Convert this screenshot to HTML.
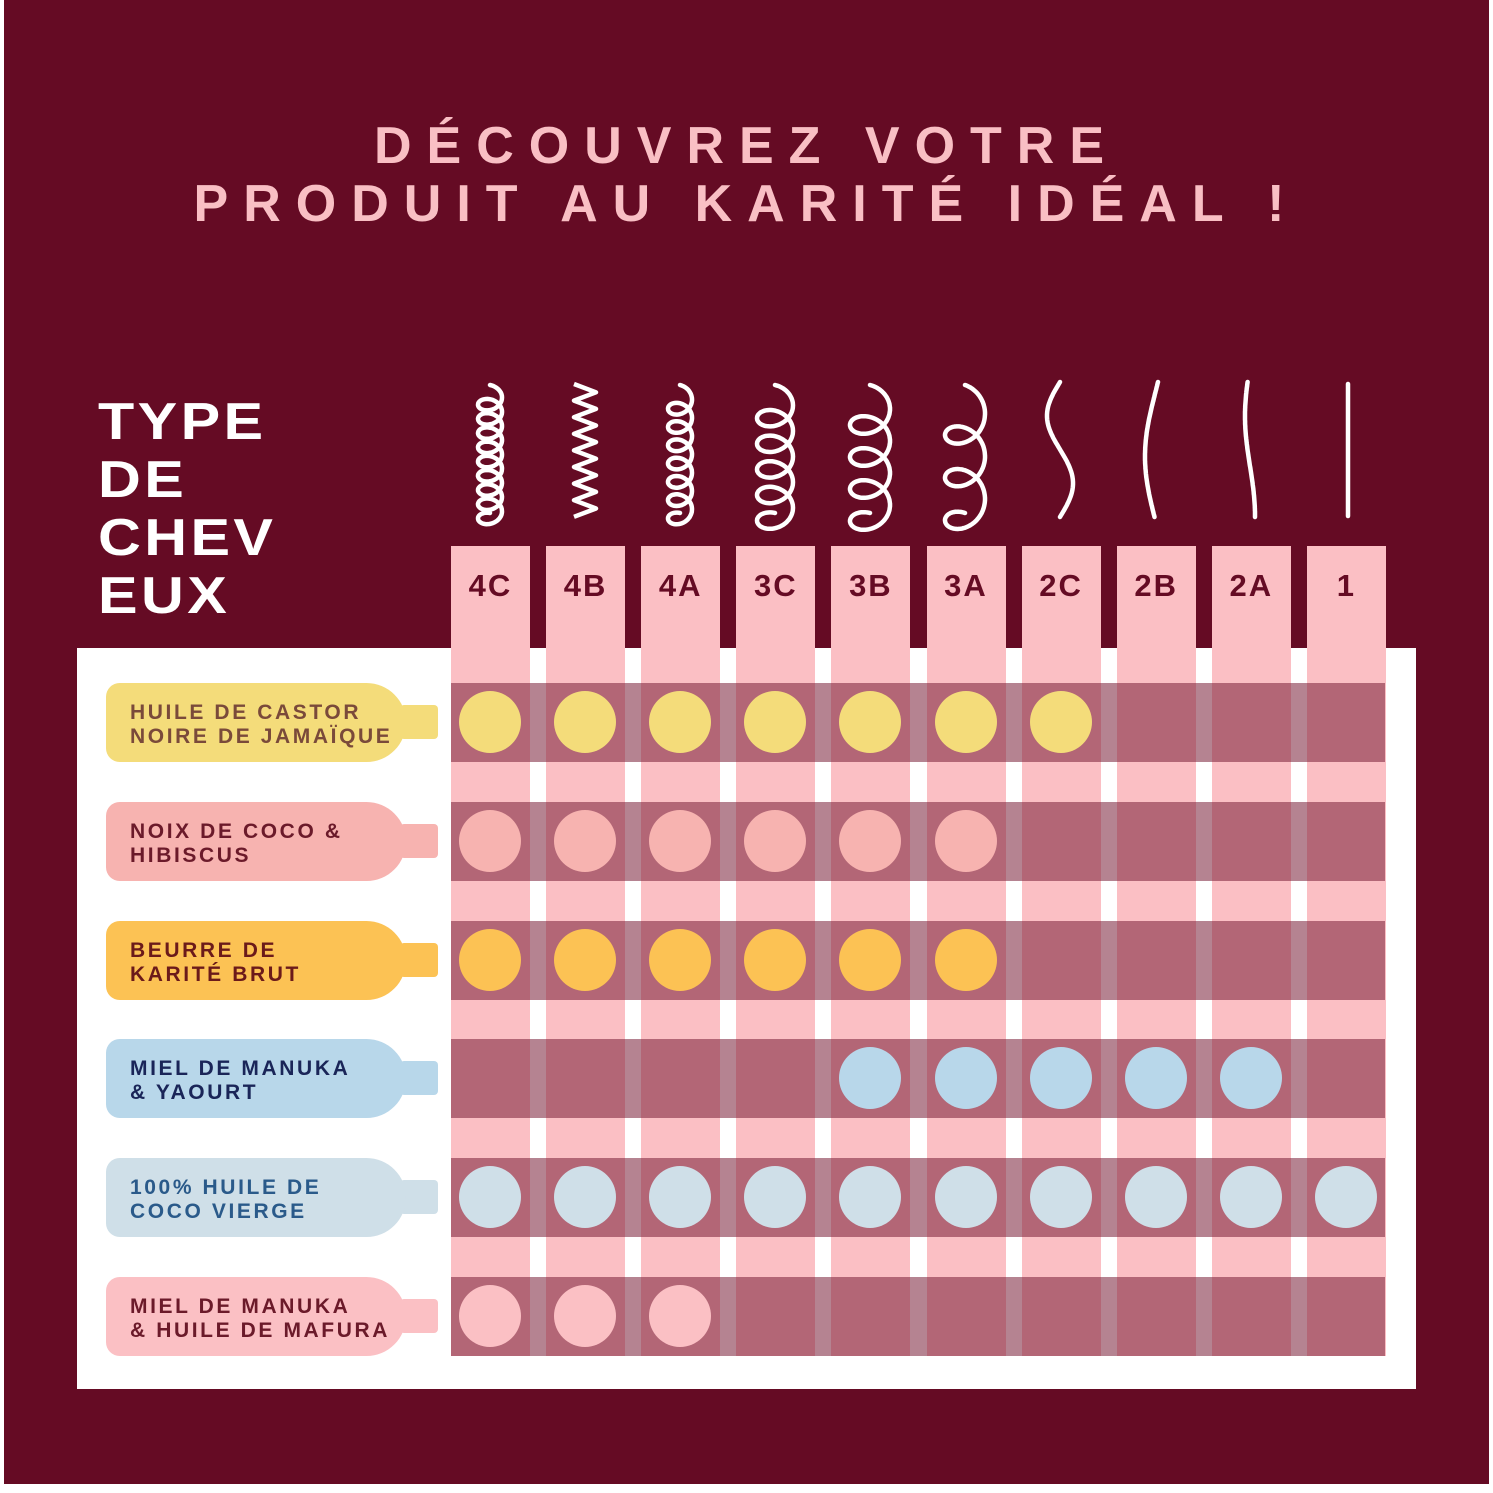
<!DOCTYPE html>
<html><head><meta charset="utf-8"><style>
body{margin:0;width:1493px;height:1493px;background:#fff;position:relative;overflow:hidden;font-family:"Liberation Sans",sans-serif;font-weight:bold}
.bg{position:absolute;left:4px;top:0;width:1485px;height:1484px;background:#650b24}
.t{position:absolute;left:0;width:1493px;text-align:center;color:#f9bfc4;font-size:52px;letter-spacing:15px;line-height:56px}
.type{position:absolute;left:98px;top:393px;color:#fff;font-size:52px;line-height:58px;letter-spacing:3px;transform:scaleX(1.14);transform-origin:left top}
.panel{position:absolute;left:77px;top:648px;width:1339px;height:741px;background:#fff}
.col{position:absolute;top:546px;width:79px;height:810px;background:#fbbfc4;color:#650b24;font-size:31px;text-align:center;padding-top:22px;box-sizing:border-box;letter-spacing:2px}
.band{position:absolute;left:451px;width:934px;height:79px;background:rgba(120,30,55,0.55)}
.dot{position:absolute;width:62px;height:62px;border-radius:50%}
.lab{position:absolute;left:106px;width:300px;height:79px;border-radius:14px 40px 40px 14px;font-size:21px;letter-spacing:2.6px;line-height:24px;padding:18px 0 0 24px;box-sizing:border-box;white-space:nowrap}
.neck{position:absolute;left:400px;width:38px;height:34px;border-radius:4px}
</style></head><body>
<div class="bg"></div>
<div class="t" style="top:118px">DÉCOUVREZ VOTRE</div>
<div class="t" style="top:176px">PRODUIT AU KARITÉ IDÉAL !</div>
<div class="type">TYPE<br>DE<br>CHEV<br>EUX</div>
<div class="panel"></div>
<div id="g"></div>
<svg id="h" style="position:absolute;left:0;top:0" width="1493" height="1493"></svg>
<script>
var g=document.getElementById('g'),html='';
var cols=['4C','4B','4A','3C','3B','3A','2C','2B','2A','1'];
for(var i=0;i<10;i++){html+='<div class="col" style="left:'+(451+i*95.1)+'px">'+cols[i]+'</div>';}
var rows=[
['HUILE DE CASTOR<br>NOIRE DE JAMAÏQUE','#f4dc7a','#7a4a3a','#f4dc7a',[0,1,2,3,4,5,6]],
['NOIX DE COCO &amp;<br>HIBISCUS','#f7b3b0','#6b1a2a','#f7b3b0',[0,1,2,3,4,5]],
['BEURRE DE<br>KARITÉ BRUT','#fcc254','#6b1a1a','#fcc254',[0,1,2,3,4,5]],
['MIEL DE MANUKA<br>&amp; YAOURT','#b8d7ea','#1a2558','#b8d7ea',[4,5,6,7,8]],
['100% HUILE DE<br>COCO VIERGE','#cfdfe8','#2a5a8a','#cfdfe8',[0,1,2,3,4,5,6,7,8,9]],
['MIEL DE MANUKA<br>&amp; HUILE DE MAFURA','#fbc0c4','#6b1a2a','#fbc0c4',[0,1,2]]];
for(var r=0;r<6;r++){var y=683+r*118.8,R=rows[r];
html+='<div class="band" style="top:'+y+'px"></div>';
html+='<div class="neck" style="top:'+(y+22)+'px;background:'+R[1]+'"></div>';
html+='<div class="lab" style="top:'+y+'px;background:'+R[1]+';color:'+R[2]+'">'+R[0]+'</div>';
R[4].forEach(function(c){html+='<div class="dot" style="left:'+(459+c*95.1)+'px;top:'+(y+8)+'px;background:'+R[3]+'"></div>';});}
g.innerHTML=html;
var s='';
function coil(cx,n,a,a2){var top=385,h=128,b=h/(2*Math.PI*n),d='';for(var k=0;k<=400;k++){var t=k/400*2*Math.PI*n;var x=cx+a*Math.sin(t),yy=top+b*t-a2*Math.cos(t)+a2;d+=(k?'L':'M')+x.toFixed(1)+' '+yy.toFixed(1);}return '<path d="'+d+'" fill="none" stroke="#fff" stroke-width="4.5" stroke-linecap="round"/>';}
function wave(cx,A,per,ph){var d='';for(var k=0;k<=100;k++){var yy=382+k*1.35;var x=cx+A*Math.sin(k*1.35/per*2*Math.PI+ph);d+=(k?'L':'M')+x.toFixed(1)+' '+yy.toFixed(1);}return '<path d="'+d+'" fill="none" stroke="#fff" stroke-width="4.5" stroke-linecap="round"/>';}
s+=coil(490,9,12,9);
var d='M574 384';for(var k=1;k<=16;k++){d+='L'+(k%2?596:574)+' '+(384+k*8.3);}s+='<path d="'+d+'" fill="none" stroke="#fff" stroke-width="4.5" stroke-linejoin="round"/>';
s+=coil(680,7,12,10);s+=coil(775,5,18,14);s+=coil(870,4,20,16);s+=coil(965,3,20,18);
s+=wave(1060,13,135,Math.PI);s+=wave(1155,10,250,Math.PI-0.3);s+=wave(1250,5,200,Math.PI+0.5);
s+='<path d="M1348 384L1348 516" stroke="#fff" stroke-width="4.5" stroke-linecap="round"/>';
document.getElementById('h').innerHTML=s;
</script>
</body></html>
